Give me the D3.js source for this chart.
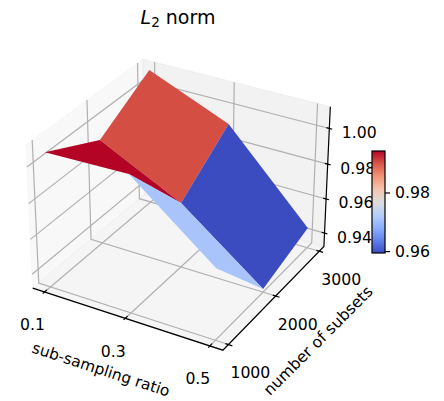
<!DOCTYPE html>
<html>
<head>
<meta charset="utf-8">
<script src="https://cdn.jsdelivr.net/npm/d3@7"></script>
<style>
  body { margin: 0; background: #fff; }
  text { font-family: "DejaVu Sans", sans-serif; fill: #000; }
</style>
</head>
<body>
<div id="chart"></div>
<script>
// values
const ratios = [0.1, 0.3, 0.5];
const subsets = [1000, 2000, 3000];
// one row per ratio, one column per number of subsets
const normAtRatio1 = [1.0074, 0.9916, 1.0098];
const normAtRatio3 = [1.0086, 0.969, 0.9909];
const normAtRatio5 = [0.972, 0.9338, 0.9437];
const normRows = [normAtRatio1, normAtRatio3, normAtRatio5];

const ratioTicks = ["0.1", "0.3", "0.5"];
const subsetTicks = ["1000", "2000", "3000"];
const normTicks = [0.94, 0.96, 0.98, 1.0];
const barTicks = [0.96, 0.98];

// matplotlib coolwarm
const coolwarm = d3.scaleLinear()
  .domain([0, 0.125, 0.25, 0.375, 0.5, 0.625, 0.75, 0.875, 1])
  .range(["#3b4cc0", "#6282ea", "#8db0fe", "#b7cff9", "#dddddd", "#f5c4ad", "#f39577", "#d95847", "#b40426"]);

const width = 444, height = 401;
const labelSize = "15.7px";
const svg = d3.select("#chart").append("svg")
  .attr("width", width)
  .attr("height", height);

// data -> unit box
const xs = d3.scaleLinear().domain([0.07, 0.53]).range([0, 1]);
const ys = d3.scaleLinear().domain([889, 3111]).range([0, 1]);
const zs = d3.scaleLinear().domain([0.932, 1.012]).range([0, 1]);

// projected plane -> pixels
const sx = d3.scaleLinear().domain([-0.1, 0.1]).range([-2, 364]);
const sy = d3.scaleLinear().domain([-0.1, 0.1]).range([380.7, 14.7]);

// camera: elev 30, azim -60, box aspect 4:4:3
const elev = 30 * Math.PI / 180, azim = -60 * Math.PI / 180, dist = 10;
const boxX = 1.1905, boxY = 1.1905, boxZ = 0.8929;
const n = [Math.cos(elev) * Math.cos(azim), Math.cos(elev) * Math.sin(azim), Math.sin(elev)];
const u = [-Math.sin(azim), Math.cos(azim), 0];
const v = [n[1] * u[2] - n[2] * u[1], n[2] * u[0] - n[0] * u[2], n[0] * u[1] - n[1] * u[0]];
const dot = (a, b) => a[0] * b[0] + a[1] * b[1] + a[2] * b[2];

// unit box coords -> pixel + depth
function project(tx, ty, tz) {
  const d = [(tx - 0.5) * boxX, (ty - 0.5) * boxY, (tz - 0.5) * boxZ];
  const w = dot(d, n);
  return { x: sx(dot(d, u) / (dist - w)), y: sy(dot(d, v) / (dist - w)), depth: w };
}
const path = pts => "M" + pts.map(p => p.x + "," + p.y).join("L");
const line = (g, pts, color, lw) => g.append("path")
  .attr("d", path(pts))
  .attr("fill", "none")
  .attr("stroke", color)
  .attr("stroke-width", lw);

// panes
const panes = [
  { color: "rgb(242,242,242)", c: [[0, 0, 0], [0, 1, 0], [0, 1, 1], [0, 0, 1]] },
  { color: "rgb(230,230,230)", c: [[0, 1, 0], [1, 1, 0], [1, 1, 1], [0, 1, 1]] },
  { color: "rgb(236,236,236)", c: [[0, 0, 0], [1, 0, 0], [1, 1, 0], [0, 1, 0]] }
];
svg.append("g").selectAll("path")
  .data(panes)
  .join("path")
  .attr("d", d => path(d.c.map(c => project(...c))) + "Z")
  .attr("fill", d => d.color)
  .attr("stroke", d => d.color)
  .attr("fill-opacity", 0.5)
  .attr("stroke-opacity", 0.5);

// grid lines
const gridColor = "#b0b0b0";
const gGrid = svg.append("g");
ratios.forEach(r => {
  const t = xs(r);
  line(gGrid, [project(t, 0, 0), project(t, 1, 0), project(t, 1, 1)], gridColor, 1.2);
});
subsets.forEach(s => {
  const t = ys(s);
  line(gGrid, [project(1, t, 0), project(0, t, 0), project(0, t, 1)], gridColor, 1.2);
});
normTicks.forEach(z => {
  const t = zs(z);
  line(gGrid, [project(0, 0, t), project(0, 1, t), project(1, 1, t)], gridColor, 1.2);
});

// axes and ticks
const gAxes = svg.append("g");
line(gAxes, [project(0, 0, 0), project(1, 0, 0), project(1, 1, 0), project(1, 1, 1)], "#000", 1.2);

const tickLabel = (p, str, dx, dy) => gAxes.append("text")
  .attr("x", p.x + dx)
  .attr("y", p.y + dy)
  .attr("text-anchor", "middle")
  .attr("dominant-baseline", "central")
  .style("font-size", labelSize)
  .text(str);

ratios.forEach((r, i) => {
  const t = xs(r);
  line(gAxes, [project(t, -0.015, 0), project(t, 0.02, 0)], "#000", 1.2);
  tickLabel(project(t, 0, 0), ratioTicks[i], -12, 33);
});
subsets.forEach((s, i) => {
  const t = ys(s);
  line(gAxes, [project(0.985, t, 0), project(1.02, t, 0)], "#000", 1.2);
  tickLabel(project(1, t, 0), subsetTicks[i], 22, 28);
});
normTicks.forEach(z => {
  const t = zs(z);
  line(gAxes, [project(0.985, 1, t), project(1.015, 1, t)], "#000", 1.2);
  tickLabel(project(1, 1, t), z.toFixed(2), 30, 4);
});

// surface: one face per cell, coloured by its mean
const faces = [];
for (let i = 0; i < ratios.length - 1; i++) {
  for (let j = 0; j < subsets.length - 1; j++) {
    const corners = [[i, j], [i + 1, j], [i + 1, j + 1], [i, j + 1]];
    const pts = corners.map(c => project(xs(ratios[c[0]]), ys(subsets[c[1]]), zs(normRows[c[0]][c[1]])));
    faces.push({
      pts,
      mean: d3.mean(corners, c => normRows[c[0]][c[1]]),
      depth: d3.mean(pts, p => p.depth)
    });
  }
}
faces.sort((a, b) => d3.ascending(a.depth, b.depth));
const cNorm = d3.scaleLinear().domain(d3.extent(faces, d => d.mean)).range([0, 1]);

svg.append("g").selectAll("path")
  .data(faces)
  .join("path")
  .attr("d", d => path(d.pts) + "Z")
  .attr("fill", d => coolwarm(cNorm(d.mean)));

// colorbar
const barX = 372, barW = 13;
const barScale = d3.scaleLinear().domain(cNorm.domain()).range([253, 151]);
const grad = svg.append("defs").append("linearGradient")
  .attr("id", "cbar")
  .attr("x1", 0).attr("y1", 1).attr("x2", 0).attr("y2", 0);
coolwarm.domain().forEach(o => {
  grad.append("stop").attr("offset", o).attr("stop-color", coolwarm(o));
});
svg.append("rect")
  .attr("x", barX).attr("y", barScale.range()[1])
  .attr("width", barW).attr("height", barScale.range()[0] - barScale.range()[1])
  .attr("fill", "url(#cbar)")
  .attr("stroke", "#000")
  .attr("stroke-width", 1.2);
const barAxis = svg.append("g")
  .attr("transform", "translate(" + (barX + barW) + ",0)")
  .call(d3.axisRight(barScale).tickValues(barTicks).tickFormat(d3.format(".2f")).tickSize(5).tickPadding(5));
barAxis.select(".domain").remove();
barAxis.selectAll("line").attr("stroke", "#000").attr("stroke-width", 1.2);
barAxis.selectAll("text").style("font-size", labelSize).style("font-family", '"DejaVu Sans"');

// title and axis labels
const title = svg.append("text")
  .attr("x", 178).attr("y", 24)
  .attr("text-anchor", "middle")
  .style("font-size", "19px");
title.append("tspan").attr("font-style", "italic").text("L");
title.append("tspan").attr("dy", 3).style("font-size", "13.5px").text("2");
title.append("tspan").attr("dy", -3).text(" norm");

svg.append("text")
  .attr("transform", "translate(101,369.8) rotate(18)")
  .attr("text-anchor", "middle")
  .attr("dominant-baseline", "central")
  .style("font-size", "15.4px")
  .text("sub-sampling ratio");
svg.append("text")
  .attr("transform", "translate(318,340.5) rotate(-45)")
  .attr("text-anchor", "middle")
  .attr("dominant-baseline", "central")
  .style("font-size", labelSize)
  .text("number of subsets");
</script>
</body>
</html>
